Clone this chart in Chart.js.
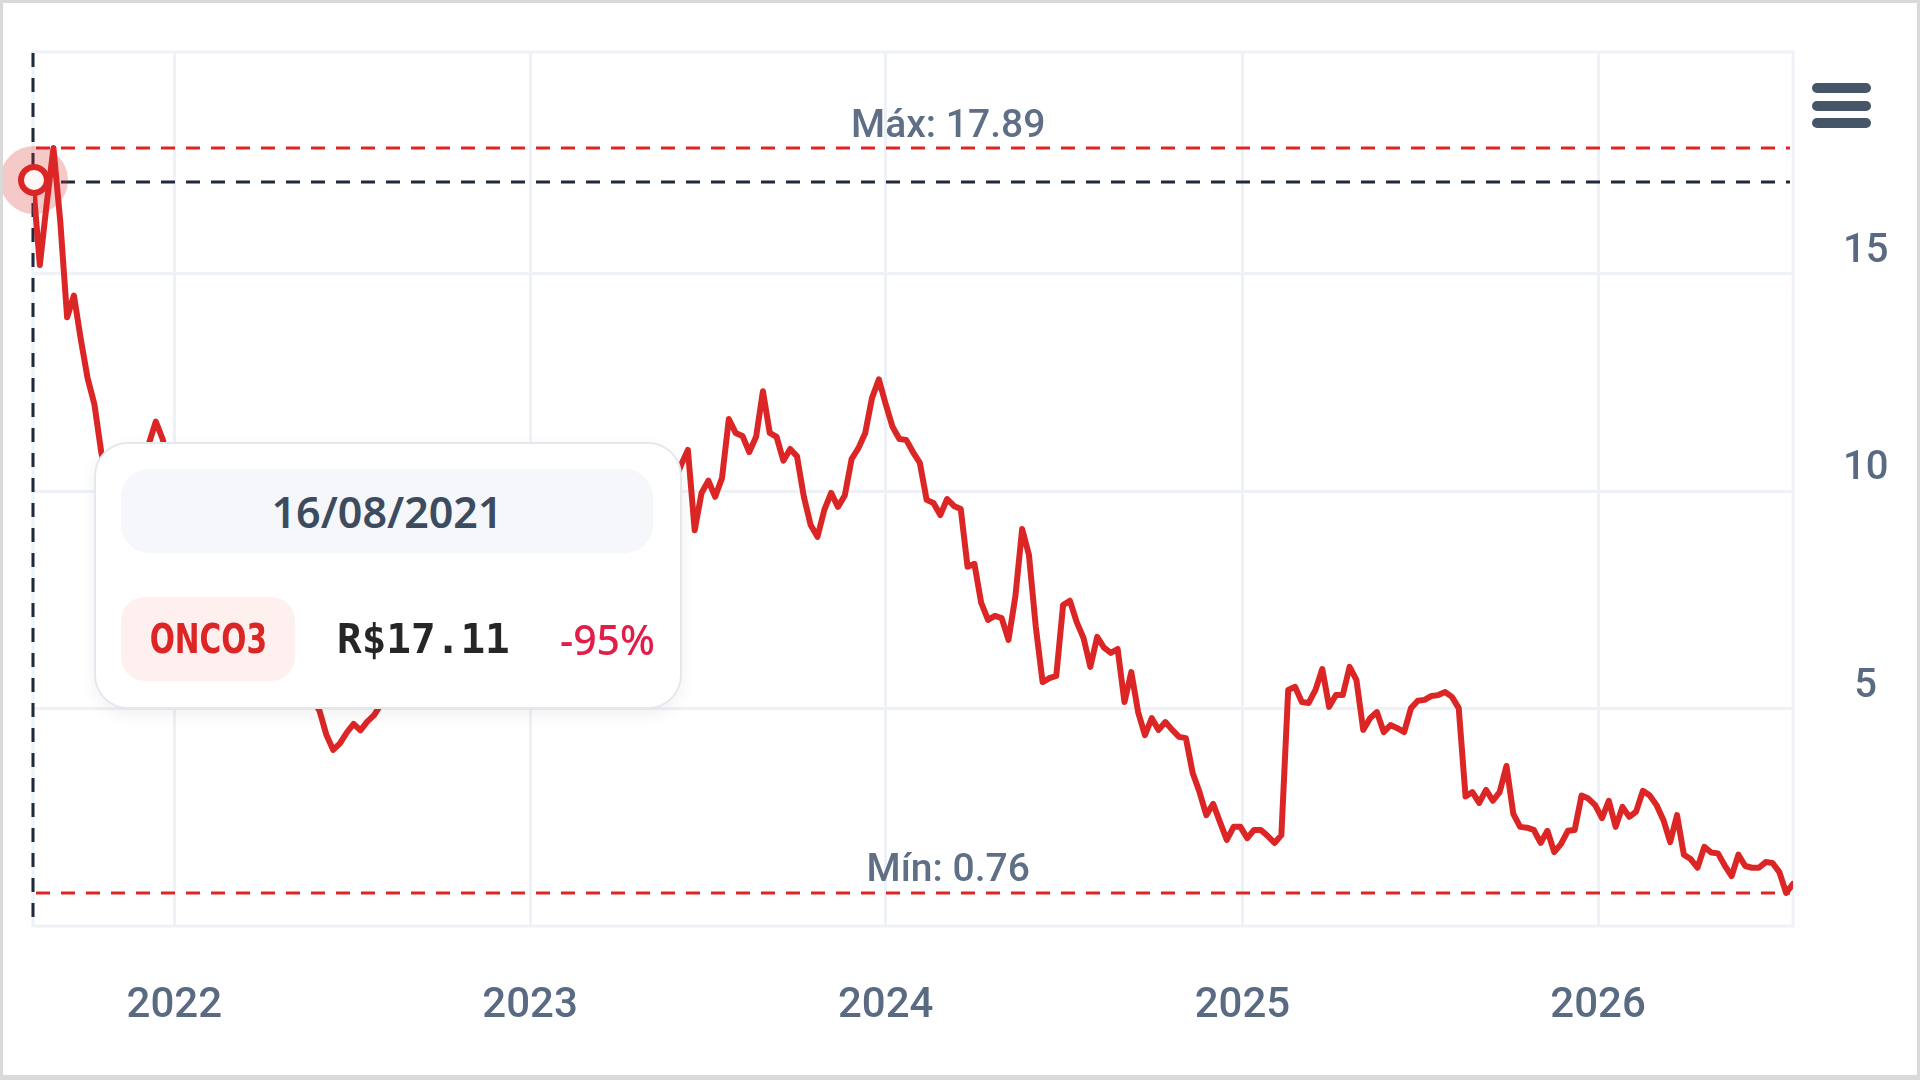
<!DOCTYPE html>
<html>
<head>
<meta charset="utf-8">
<script src="https://cdn.jsdelivr.net/npm/chart.js@4.4.1/dist/chart.umd.min.js"></script>
<style>
  html, body { margin: 0; padding: 0; background: #fff; }
  #frame { position: absolute; left: 0; top: 0; width: 1920px; height: 1080px; box-sizing: border-box;
           border: 3px solid #d9d9d9; border-bottom-width: 5px; background: #fff; }
  #c { position: absolute; left: 3px; top: 3px; }
  .menu { position: absolute; left: 1812px; top: 83px; width: 59px; }
  .menu span { display: block; height: 10px; border-radius: 5px; background: #475569; margin-bottom: 7.5px; }
  .tip { position: absolute; left: 94px; top: 442px; width: 588px; height: 267px; box-sizing: border-box;
         border: 2px solid #e3e8ef; border-radius: 34px; background: #fff;
         box-shadow: 0 6px 18px rgba(15, 23, 42, 0.06); }
  .tip .date { position: absolute; left: 25px; top: 25px; width: 532px; height: 84px; border-radius: 28px;
               background: #f5f7fa; color: #3d4b5f; font: 600 43px "Noto Sans", "Open Sans", sans-serif;
               display: flex; align-items: center; justify-content: center; }
  .tip .row { position: absolute; left: 25px; top: 153px; width: 534px; height: 84px; }
  .tip .pill { position: absolute; left: 0; top: 0; width: 174px; height: 84px; border-radius: 24px;
               background: #fdf0ef; display: flex; align-items: center; justify-content: center; }
  .tip .pill span { display: inline-block; color: #dc2626; transform: scaleX(0.74);
               font-family: "DejaVu Sans", sans-serif; font-weight: 700; font-size: 40px; white-space: nowrap; }
  .tip .price { position: absolute; left: 216px; top: 0; height: 84px; display: flex; align-items: center;
                color: #262626; font: bold 41px "DejaVu Sans Mono", "Liberation Mono", monospace; }
  .tip .chg { position: absolute; right: 0; top: 0; height: 84px; display: flex; align-items: center;
              color: #e11d48; font: 500 41px "Noto Sans", "Open Sans", sans-serif; }
</style>
</head>
<body>
<div id="frame"></div>
<canvas id="c" width="1914" height="1072"></canvas>
<div class="menu"><span></span><span></span><span></span></div>
<div class="tip" id="tip">
  <div class="date" id="tipDate"></div>
  <div class="row">
    <div class="pill"><span id="tipTicker"></span></div>
    <div class="price" id="tipPrice"></div>
    <div class="chg" id="tipChange"></div>
  </div>
</div>
<script>
// ---- data (weekly closes) ----
const startDate = Date.UTC(2021, 7, 9);   // first weekly point
const stepDays = 7;
const weeklyClose = [
  17.11, 15.2, 16.6, 17.89, 16.2, 14.0, 14.5, 13.5, 12.6, 12.0,
  10.9, 10.2, 9.8, 10.3, 9.9, 10.4, 10.6, 11.1, 11.6, 11.2,
  10.6, 10.1, 9.6, 9.9, 9.2, 8.8, 8.4, 8.7, 8.1, 7.6,
  7.2, 7.4, 6.9, 6.5, 6.8, 6.2, 5.9, 6.1, 5.6, 5.4,
  5.6, 5.2, 4.95, 4.4, 4.05, 4.2, 4.45, 4.65, 4.5, 4.7,
  4.85, 5.1, 5.3, 5.6, 5.4, 5.9, 6.3, 6.1, 6.6, 7.0,
  6.8, 7.3, 7.6, 7.4, 7.9, 8.2, 7.8, 8.0, 7.6, 7.3,
  7.0, 6.7, 6.9, 6.5, 6.2, 6.5, 6.9, 7.2, 7.0, 7.5,
  7.8, 8.1, 7.9, 8.4, 8.7, 8.5, 8.9, 9.2, 9.0, 9.4,
  9.1, 9.6, 9.9, 9.7, 10.2, 10.6, 10.95, 9.1, 9.96, 10.24,
  9.87, 10.3, 11.66, 11.34, 11.27, 10.9, 11.25, 12.3, 11.34, 11.25,
  10.7, 10.97, 10.8, 9.87, 9.22, 8.95, 9.57, 9.96, 9.64, 9.9,
  10.74, 10.99, 11.34, 12.15, 12.57, 12.0, 11.48, 11.2, 11.18, 10.9,
  10.65, 9.8, 9.73, 9.45, 9.82, 9.66, 9.59, 8.26, 8.33, 7.43,
  7.04, 7.13, 7.08, 6.58, 7.57, 9.13, 8.53, 6.88, 5.61, 5.7,
  5.75, 7.38, 7.48, 6.99, 6.62, 5.96, 6.65, 6.4, 6.28, 6.37,
  5.15, 5.84, 4.92, 4.39, 4.78, 4.51, 4.69, 4.51, 4.35, 4.32,
  3.52, 3.08, 2.55, 2.81, 2.39, 1.98, 2.28, 2.28, 2.02, 2.21,
  2.21, 2.07, 1.91, 2.09, 5.43, 5.5, 5.15, 5.13, 5.43, 5.91,
  5.04, 5.31, 5.31, 5.96, 5.66, 4.51, 4.78, 4.92, 4.46, 4.62,
  4.55, 4.46, 5.01, 5.18, 5.2, 5.29, 5.31, 5.38, 5.27, 5.01,
  2.98, 3.08, 2.83, 3.13, 2.88, 3.08, 3.68, 2.58, 2.28, 2.26,
  2.21, 1.91, 2.19, 1.7, 1.89, 2.19, 2.21, 3.0, 2.93, 2.78,
  2.48, 2.88, 2.28, 2.74, 2.51, 2.63, 3.11, 3.0, 2.78, 2.44,
  1.93, 2.55, 1.64, 1.54, 1.34, 1.82, 1.69, 1.67, 1.39, 1.15,
  1.64, 1.38, 1.34, 1.34, 1.47, 1.45, 1.24, 0.76, 0.97
];
const yearTicks = [2022, 2023, 2024, 2025, 2026];
const yTicks = [5, 10, 15];
const yMin = 0, yMax = 20.1;
const hoverIndex = 0;
const tooltipText = { date: '16/08/2021', ticker: 'ONCO3', price: 'R$17.11', change: '-95%' };
const maxLabelPrefix = 'Máx: ', minLabelPrefix = 'Mín: ';

// ---- styles ----
const RED = '#dc2626', DASH_RED = '#e02424', DARK = '#1e293b', GRID = '#eef2f7', LABEL = '#5a6a83';
const FONT = "Roboto, 'Liberation Sans', Arial, sans-serif";

// ---- build ----
const DAY = 86400000;
const points = weeklyClose.map((v, i) => ({ x: startDate + i * stepDays * DAY, y: v }));
const maxV = Math.max(...weeklyClose), minV = Math.min(...weeklyClose);

document.getElementById('tipDate').textContent = tooltipText.date;
document.getElementById('tipTicker').textContent = tooltipText.ticker;
document.getElementById('tipPrice').textContent = tooltipText.price;
document.getElementById('tipChange').textContent = tooltipText.change;

const overlay = {
  id: 'overlay',
  beforeDatasetsDraw(chart) {
    const { ctx, chartArea: a, scales: { x, y } } = chart;
    ctx.save();
    ctx.strokeStyle = GRID; ctx.lineWidth = 3;
    ctx.strokeRect(a.left, a.top, a.right - a.left, a.bottom - a.top);
    ctx.setLineDash([14, 11]); ctx.lineWidth = 3;
    ctx.strokeStyle = DASH_RED;
    [maxV, minV].forEach(v => {
      const py = Math.round(y.getPixelForValue(v));
      ctx.beginPath(); ctx.moveTo(a.left + 3, py); ctx.lineTo(a.right - 3, py); ctx.stroke();
    });
    const p = points[hoverIndex];
    const px = x.getPixelForValue(p.x), py = Math.round(y.getPixelForValue(p.y));
    ctx.strokeStyle = DARK;
    ctx.beginPath(); ctx.moveTo(px, a.top + 1); ctx.lineTo(px, a.bottom - 2); ctx.stroke();
    ctx.beginPath(); ctx.moveTo(a.left + 3, py); ctx.lineTo(a.right - 3, py); ctx.stroke();
    ctx.restore();
  },
  afterDatasetsDraw(chart) {
    const { ctx, chartArea: a, scales: { x, y } } = chart;
    ctx.save();
    ctx.font = '500 39px ' + FONT; ctx.fillStyle = '#5f6f86';
    ctx.textAlign = 'center'; ctx.textBaseline = 'alphabetic';
    const lx = a.left + 0.52 * (a.right - a.left);
    ctx.fillText(maxLabelPrefix + maxV.toFixed(2), lx, y.getPixelForValue(maxV) - 11);
    ctx.fillText(minLabelPrefix + minV.toFixed(2), lx, y.getPixelForValue(minV) - 12);
    const p = points[hoverIndex];
    const px = x.getPixelForValue(p.x) + 1, py = y.getPixelForValue(p.y) - 2;
    ctx.fillStyle = 'rgba(220, 38, 38, 0.25)';
    ctx.beginPath(); ctx.arc(px, py, 34, 0, Math.PI * 2); ctx.fill();
    ctx.fillStyle = '#fff6f6'; ctx.strokeStyle = RED; ctx.lineWidth = 6;
    ctx.beginPath(); ctx.arc(px, py, 13, 0, Math.PI * 2); ctx.fill(); ctx.stroke();
    ctx.restore();
  }
};

new Chart(document.getElementById('c'), {
  type: 'line',
  data: {
    datasets: [{
      data: points,
      borderColor: RED,
      borderWidth: 6,
      pointRadius: 0,
      tension: 0,
      borderJoinStyle: 'round',
      borderCapStyle: 'round',
      fill: false
    }]
  },
  options: {
    responsive: false,
    devicePixelRatio: 1,
    animation: false,
    events: [],
    layout: { padding: { left: 30, top: 49, right: 0, bottom: 0 } },
    plugins: { legend: { display: false }, tooltip: { enabled: false } },
    scales: {
      x: {
        type: 'linear',
        position: 'bottom',
        min: points[0].x,
        max: points[points.length - 1].x,
        afterBuildTicks: s => { s.ticks = yearTicks.map(yr => ({ value: Date.UTC(yr, 0, 1) })); },
        afterFit: s => { s.height = 149; s.paddingLeft = 0; s.paddingRight = 0; },
        grid: { color: GRID, lineWidth: 3, drawTicks: false },
        border: { display: false },
        ticks: {
          autoSkip: false, maxRotation: 0, padding: 55,
          color: LABEL, font: { family: FONT, size: 42, weight: '500' },
          callback: v => String(new Date(v).getUTCFullYear())
        }
      },
      y: {
        type: 'linear',
        position: 'right',
        min: yMin,
        max: yMax,
        afterBuildTicks: s => { s.ticks = yTicks.map(v => ({ value: v })); },
        afterFit: s => { s.width = 124; s.paddingTop = 0; s.paddingBottom = 0; },
        grid: { color: GRID, lineWidth: 3, drawTicks: false },
        border: { display: false },
        ticks: {
          padding: 50, crossAlign: 'center', labelOffset: -22,
          color: LABEL, font: { family: FONT, size: 40, weight: '500' },
          callback: v => String(v)
        }
      }
    }
  },
  plugins: [overlay]
});
</script>
</body>
</html>
